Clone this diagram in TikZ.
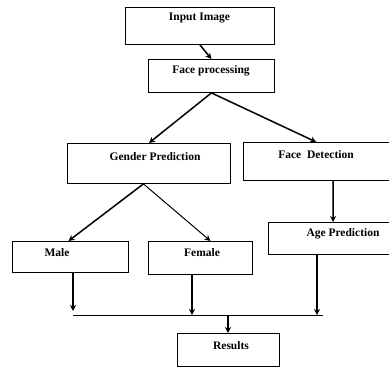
\documentclass[tikz,border=0pt]{standalone}
\usepackage{fontspec}
\setmainfont{Liberation Serif}
\usetikzlibrary{arrows.meta}
\begin{document}
\begin{tikzpicture}[x=1pt,y=-1pt,
  box/.style={draw=black, line width=0.9pt, inner sep=0pt, anchor=north west},
  txt/.style={font=\fontsize{11.5}{13}\selectfont\bfseries, inner sep=0pt},
  arr/.style={line width=1.5pt, -{Stealth[length=6pt,width=6pt]}},
  bus/.style={line width=0.9pt}]
\useasboundingbox (0,0) rectangle (389,367);
\clip (0,0) rectangle (389,367);
% boxes
\node[box, minimum width=149pt, minimum height=37pt] (inp) at (125,7) {};
\node[txt] (inpt) at (199.5,18) {Input Image};
\node[box, minimum width=126pt, minimum height=33pt] (fp) at (148,59) {};
\node[txt] (fpt) at (211,71) {Face processing};
\node[box, minimum width=163pt, minimum height=40pt] (gp) at (67,143) {};
\node[txt] (gpt) at (155,157) {Gender Prediction};
\node[box, minimum width=145.5pt, minimum height=38pt] (fd) at (243,142) {};
\node[txt] (fdt) at (316,155) {Face\ \ Detection};
\node[box, minimum width=130pt, minimum height=32pt] (ap) at (268,222) {};
\node[txt] (apt) at (343,234) {Age Prediction};
\node[box, minimum width=116pt, minimum height=31pt] (male) at (12,241) {};
\node[txt] (malet) at (57,253) {Male};
\node[box, minimum width=104pt, minimum height=33pt] (female) at (148,241) {};
\node[txt] (femalet) at (202,253) {Female};
\node[box, minimum width=102pt, minimum height=33pt] (res) at (177,333) {};
\node[txt] (rest) at (231,346) {Results};
% bus coordinates
\coordinate (bl) at (73,315);
\coordinate (br) at (323,315);
\coordinate (bj) at (228,315);
% connectors
\draw[arr] (inp.south) -- (fp.north);
\draw[arr] (fp.south) -- (gp.north);
\draw[arr] (fp.south) -- (fd.north);
\draw[arr] ([xshift=17pt]fd.south) -- ([xshift=65pt]ap.north west);
\draw[arr] ([xshift=-5.5pt]gp.south) -- ([xshift=-2pt]male.north);
\draw[line width=1pt, -{Stealth[length=6pt,width=6pt]}] ([xshift=-5.5pt]gp.south) -- ([xshift=10pt]female.north);
\draw[arr] ([xshift=61pt]male.south west) -- ([yshift=4pt]bl);
\draw[arr] ([xshift=44pt]female.south west) -- ([xshift=192pt-148pt]female.south west |- bl);
\draw[arr] ([xshift=49pt]ap.south west) -- ([xshift=-6pt]br);
\draw[bus] (bl) -- (br);
\draw[arr] (bj) -- (bj |- res.north);
\end{tikzpicture}
\end{document}
